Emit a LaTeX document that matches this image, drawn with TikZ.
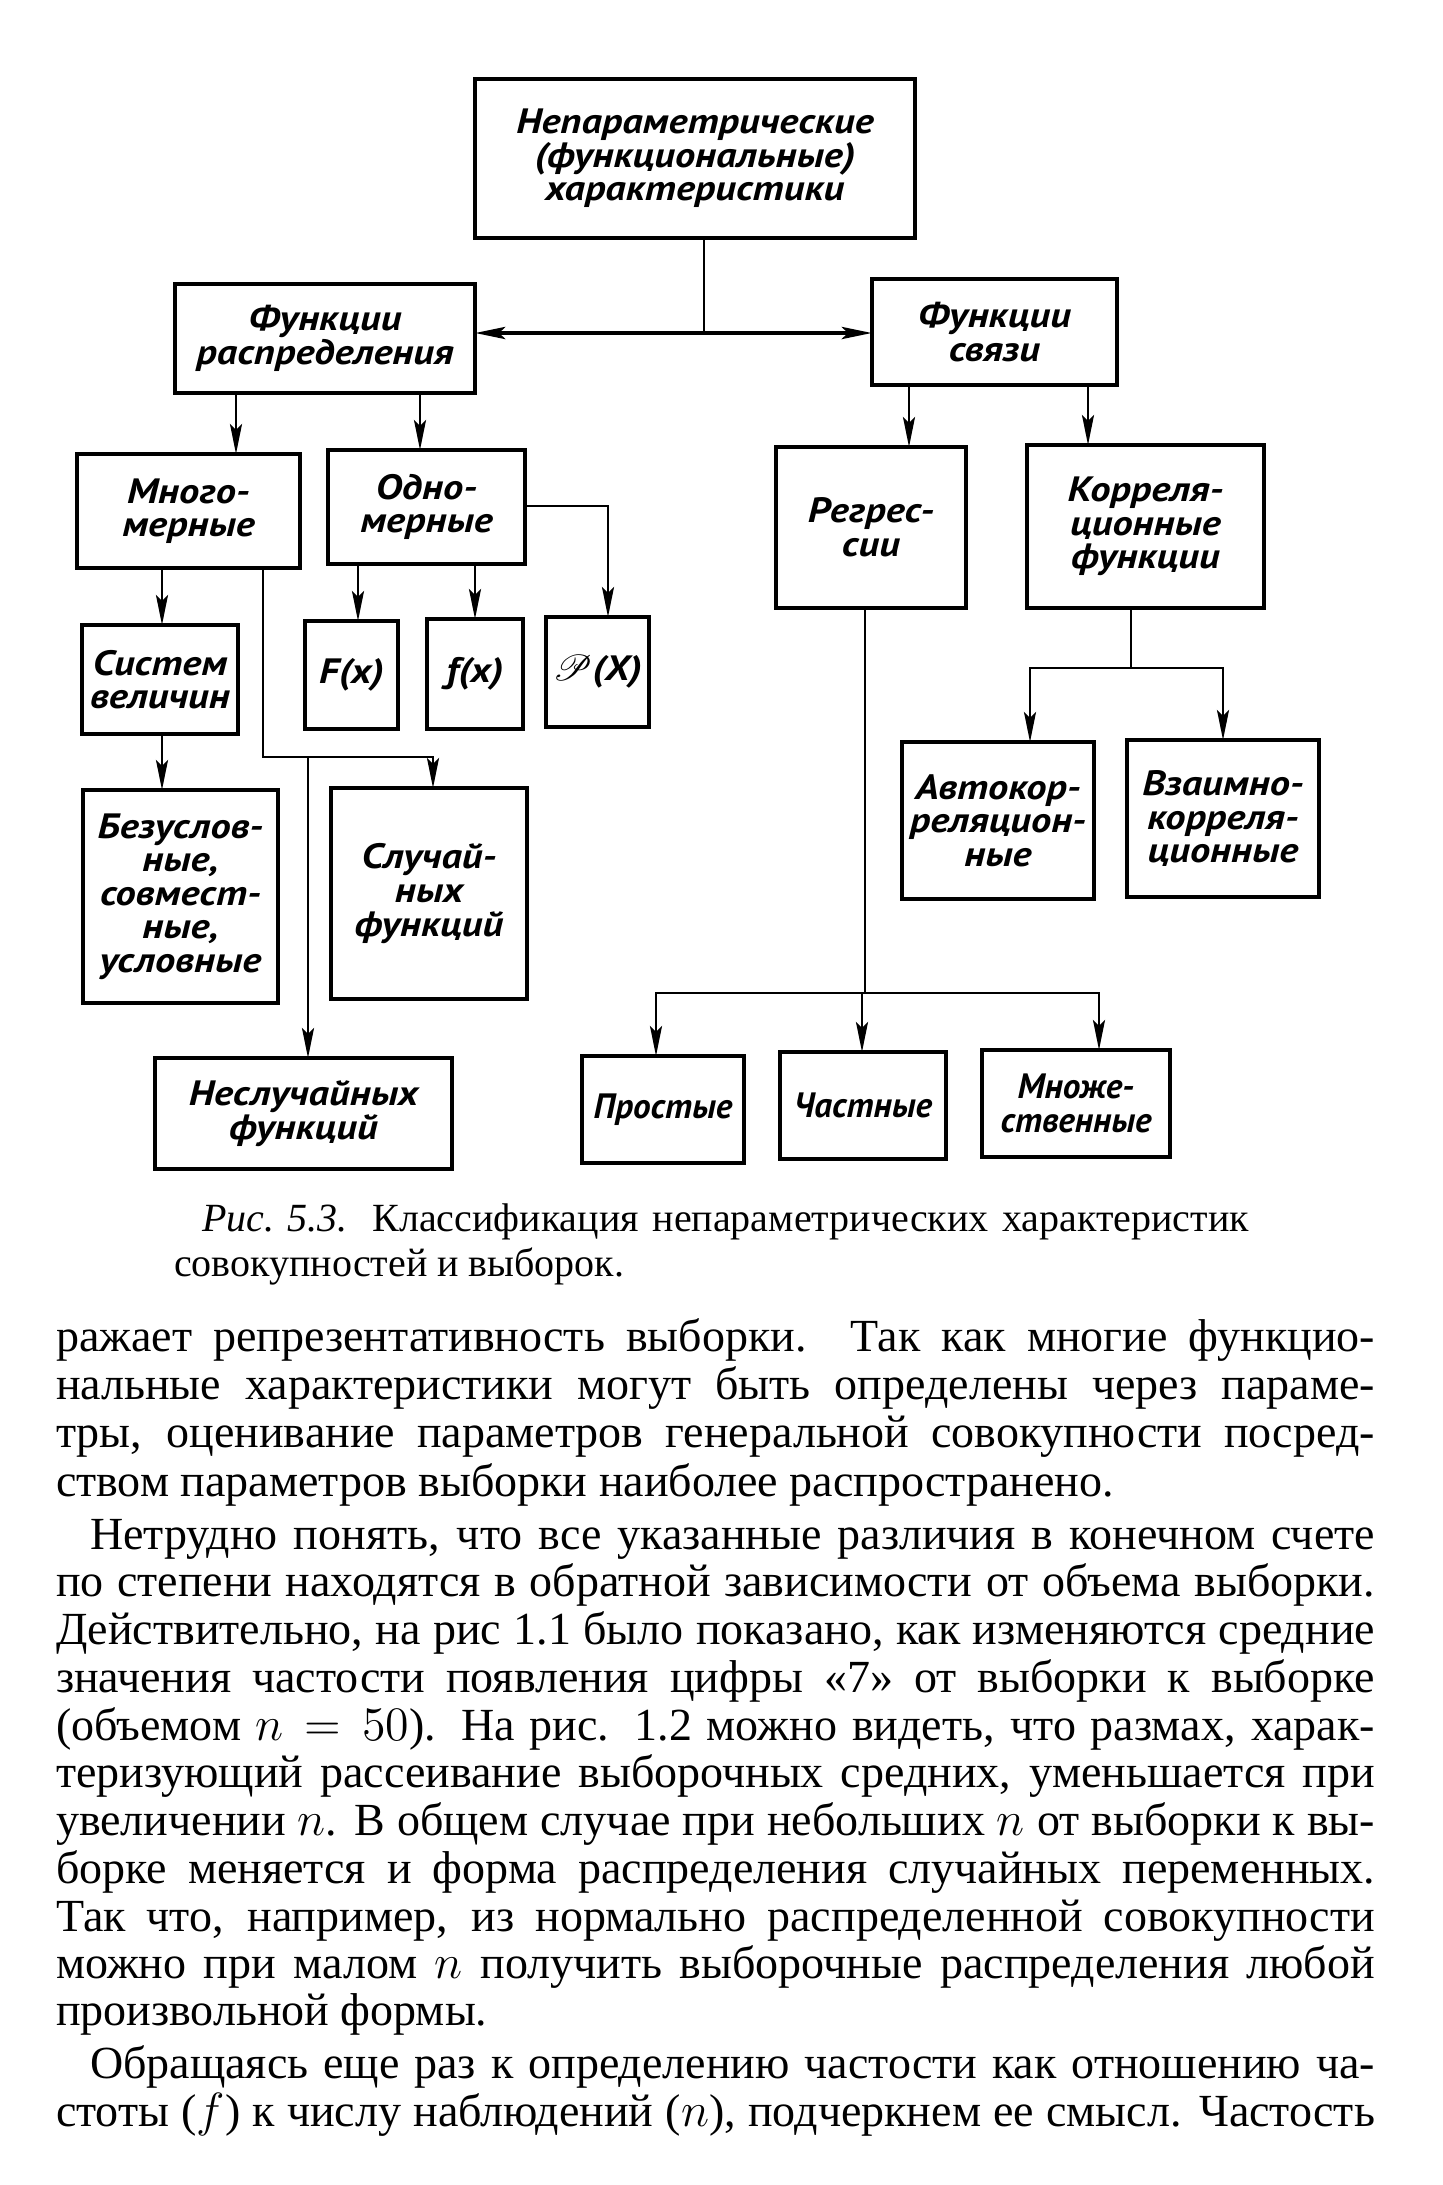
\documentclass[tikz,border=0pt]{standalone}
\usepackage{fontspec}
\usepackage{graphicx}
\usepackage{mathrsfs}
\setmainfont{Liberation Serif}
\newfontfamily\diagfont[FakeStretch=1.15]{PT Sans}
\newfontfamily\diagfontn{PT Sans}
\usetikzlibrary{arrows.meta}
\newlength\fitlw
\newcommand\fitline[2]{\settowidth\fitlw{#2}\ifdim\fitlw>#1\relax\pgfmathsetmacro\fitsx{#1/\fitlw}\scalebox{\fitsx}[1]{#2}\else\makebox[#1][s]{#2}\fi}
\begin{document}
\begin{tikzpicture}[x=0.25pt,y=-0.25pt,
  box/.style={draw, line width=1.1pt, inner sep=0pt, outer sep=0pt, align=center,
    font=\diagfont\bfseries\itshape\fontsize{8.8}{8.4}\selectfont},
  narrowtext/.style={font=\diagfontn\bfseries\itshape\fontsize{8.8}{8.4}\selectfont},
  wh/.style 2 args={minimum width=#1*0.25pt, minimum height=#2*0.25pt},
  conn/.style={line width=0.7pt},
  tip/.tip={Stealth[length=7.5pt,width=3pt,inset=1.5pt]},
  arr/.style={line width=0.7pt, -tip},
  bodyl/.style={anchor=base west, inner sep=0pt, outer sep=0pt, font=\fontsize{11.5}{12}\selectfont},
  capl/.style={anchor=base west, inner sep=0pt, outer sep=0pt, font=\fontsize{10}{11}\selectfont},
]
\useasboundingbox[fill=white] (0,0) rectangle (1443,2185);

% boxes
\node[box, wh={440}{159}] (top) at (695,158.5) {Непараметрические\\(функциональные)\\характеристики};
\node[box, wh={300}{109}] (fr) at (325,338.5) {Функции\\распределения};
\node[box, wh={245}{106}] (fs) at (994.5,332) {Функции\\связи};
\node[box, wh={223}{114}] (mn) at (188.5,511) {Много-\\мерные};
\node[box, wh={197}{114}] (od) at (426.5,507) {Одно-\\мерные};
\node[box, wh={93}{108}] (Fx) at (351.5,675) {F(x)};
\node[box, wh={96}{110}] (fx) at (475,674) {f(x)};
\node[box, wh={103}{110}] (Px) at (597.5,672) {$\mathscr{P}$(X)};
\node[box, wh={156}{109}] (sv) at (160,679.5) {Систем\\величин};
\node[box, wh={195}{213}] (bz) at (180.5,896.5) {Безуслов-\\ные,\\совмест-\\ные,\\условные};
\node[box, wh={196}{211}] (sl) at (429,893.5) {Случай-\\ных\\функций};
\node[box, wh={297}{111}] (ns) at (303.5,1113.5) {Неслучайных\\функций};
\node[box, wh={190}{161}] (rg) at (871,527.5) {Регрес-\\сии};
\node[box, wh={237}{163}] (kf) at (1145.5,526.5) {Корреля-\\ционные\\функции};
\node[box, wh={192}{157}] (ak) at (998,820.5) {Автокор-\\реляцион-\\ные};
\node[box, wh={192}{157}] (vk) at (1223,818.5) {Взаимно-\\корреля-\\ционные};
\node[box, narrowtext, wh={162}{107}] (pr) at (663,1109.5) {Простые};
\node[box, narrowtext, wh={166}{107}] (ch) at (863,1105.5) {Частные};
\node[box, narrowtext, wh={188}{107}] (mj) at (1076,1103.5) {Множе-\\ственные};

% helper coordinates
\coordinate (j0) at (704,333);
\coordinate (c1) at (236,0);
\coordinate (c2) at (420,0);
\coordinate (c3) at (909,0);
\coordinate (c4) at (1088,0);
\coordinate (c5) at (162,0);
\coordinate (c6) at (358,0);
\coordinate (c7) at (475,0);
\coordinate (c19) at (608,506);
\coordinate (c9) at (263,757);
\coordinate (c10) at (433,757);
\coordinate (c11) at (308,757);
\coordinate (c12) at (1131,668);
\coordinate (c13) at (1030,668);
\coordinate (c14) at (1223,668);
\coordinate (c15) at (865,993);
\coordinate (c16) at (656,993);
\coordinate (c17) at (862,993);
\coordinate (c18) at (1099,993);

% connectors
\draw[conn] (top.south -| j0) -- (j0);
\draw[line width=1.1pt, tip-tip] (fr.east |- j0) -- (fs.west |- j0);
\draw[arr] (fr.south -| c1) -- (mn.north -| c1);
\draw[arr] (fr.south -| c2) -- (od.north -| c2);
\draw[arr] (fs.south -| c3) -- (rg.north -| c3);
\draw[arr] (fs.south -| c4) -- (kf.north -| c4);
\draw[arr] (mn.south -| c5) -- (sv.north -| c5);
\draw[arr] (sv.south -| c5) -- (bz.north -| c5);
\draw[arr] (od.south -| c6) -- (Fx.north -| c6);
\draw[arr] (od.south -| c7) -- (fx.north -| c7);
\draw[arr] (od.east |- c19) -- (c19) -- (Px.north -| c19);
\draw[arr] (mn.south -| c9) -- (c9) -- (c10) -- (sl.north -| c10);
\draw[arr] (c11) -- (ns.north -| c11);
\draw[conn] (kf.south -| c12) -- (c12);
\draw[arr] (c12) -- (c13) -- (ak.north -| c13);
\draw[arr] (c12) -- (c14) -- (vk.north -| c14);
\draw[conn] (rg.south -| c15) -- (c15);
\draw[arr] (c15) -- (c16) -- (pr.north -| c16);
\draw[arr] (c15) -- (c18) -- (mj.north -| c18);
\draw[arr] (c17) -- (ch.north -| c17);

% caption
\node[capl] (cap1) at (202,1231) {\fitline{261.75pt}{\textit{Рис.\ 5.3.} Классификация непараметрических характеристик}};
\node[capl] (cap2) at (174,1276) {совокупностей и выборок.};

% body text
\node[bodyl] (l1) at (56,1351) {\fitline{329.75pt}{ражает репрезентативность выборки. Так как многие функцио-}};
\node[bodyl] (l2) at (56,1399) {\fitline{329.75pt}{нальные характеристики могут быть определены через параме-}};
\node[bodyl] (l3) at (56,1447) {\fitline{329.75pt}{тры, оценивание параметров генеральной совокупности посред-}};
\node[bodyl] (l4) at (56,1496) {ством параметров выборки наиболее распространено.};
\node[bodyl] (l5) at (90,1549) {\fitline{321.25pt}{Нетрудно понять, что все указанные различия в конечном счете}};
\node[bodyl] (l6) at (56,1596) {\fitline{329.75pt}{по степени находятся в обратной зависимости от объема выборки.}};
\node[bodyl] (l7) at (56,1644) {\fitline{329.75pt}{Действительно, на рис 1.1 было показано, как изменяются средние}};
\node[bodyl] (l8) at (56,1692) {\fitline{329.75pt}{значения частости появления цифры «7» от выборки к выборке}};
\node[bodyl] (l9) at (56,1740) {\fitline{329.75pt}{(объемом $n=50$). На рис. 1.2 можно видеть, что размах, харак-}};
\node[bodyl] (l10) at (56,1787) {\fitline{329.75pt}{теризующий рассеивание выборочных средних, уменьшается при}};
\node[bodyl] (l11) at (56,1835) {\fitline{329.75pt}{увеличении $n$. В общем случае при небольших $n$ от выборки к вы-}};
\node[bodyl] (l12) at (56,1883) {\fitline{329.75pt}{борке меняется и форма распределения случайных переменных.}};
\node[bodyl] (l13) at (56,1931) {\fitline{329.75pt}{Так что, например, из нормально распределенной совокупности}};
\node[bodyl] (l14) at (56,1978) {\fitline{329.75pt}{можно при малом $n$ получить выборочные распределения любой}};
\node[bodyl] (l15) at (56,2025) {произвольной формы.};
\node[bodyl] (l16) at (90,2078) {\fitline{321.25pt}{Обращаясь еще раз к определению частости как отношению ча-}};
\node[bodyl] (l17) at (56,2126) {\fitline{329.75pt}{стоты ($f$) к числу наблюдений ($n$), подчеркнем ее смысл. Частость}};
\end{tikzpicture}
\end{document}
